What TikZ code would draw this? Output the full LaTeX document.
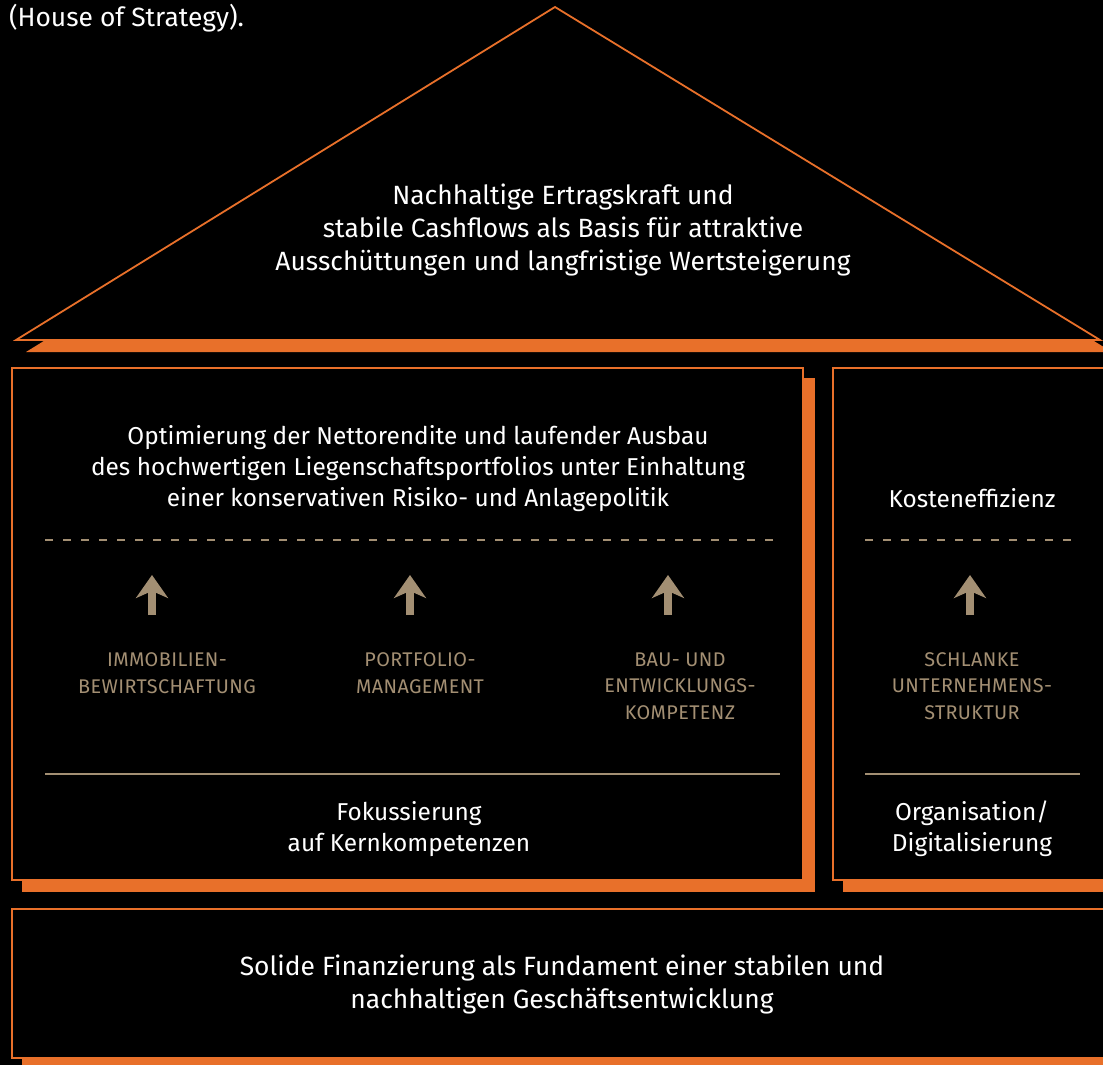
\documentclass[tikz,border=0pt]{standalone}
\usepackage{fontspec}
\setmainfont{Fira Sans}
\newfontfamily\capsfont[LetterSpace=2]{Fira Sans}
\usetikzlibrary{positioning,arrows.meta}
\definecolor{hsorange}{HTML}{E8702A}
\definecolor{hstan}{HTML}{A38F73}

\begin{document}
\begin{tikzpicture}[x=0.5pt, y=-0.5pt,
    txt/.style={text=white, align=center, font=\fontsize{13.2}{16.5}\selectfont},
    boxtxt/.style={txt, font=\fontsize{12.2}{15.5}\selectfont},
    pillar/.style={text=hstan, align=center, font=\capsfont\fontsize{9.9}{13.3}\selectfont},
    frame/.style={draw=hsorange, line width=0.9pt, fill=black},
    shade/.style={fill=hsorange},
    sep/.style={draw=hstan, line width=0.75pt},
    uparrow/.style={hstan, line width=4.4pt, -{Stealth[length=11.5pt, width=16pt, inset=3.5pt]}}]
    \fill[black] (0,0) rectangle (1103,1065);
    \useasboundingbox (0,0) rectangle (1103,1065);
    % roof
    \fill[shade] (565,19) -- (26,352) -- (1112,352) -- cycle;
    \draw[frame] (555,7) -- (16,340) -- (1100,340) -- cycle;
    % pillars and foundation
    \fill[shade] (22,378) rectangle (815,892);
    \draw[frame] (12,368) rectangle (803,880);
    \fill[shade] (843,378) rectangle (1130,892);
    \draw[frame] (833,368) rectangle (1120,880);
    \fill[shade] (22,919) rectangle (1130,1072);
    \draw[frame] (12,909) rectangle (1120,1058);
    % texts
    \node[txt, anchor=west] (title) at (2,18) {(House of Strategy).};
    \node[txt] (goal) at (563,230) {Nachhaltige Ertragskraft und\\stabile Cashflows als Basis für attraktive\\Ausschüttungen und langfristige Wertsteigerung};
    \node[boxtxt] (rendite) at (418,469) {Optimierung der Nettorendite und laufender Ausbau\\des hochwertigen Liegenschaftsportfolios unter Einhaltung\\einer konservativen Risiko- und Anlagepolitik};
    \node[boxtxt] (kosten) at (972,498) {Kosteneffizienz};
    \node[pillar] (immo) at (167,673) {IMMOBILIEN-\\BEWIRTSCHAFTUNG};
    \node[pillar] (portf) at (420,673) {PORTFOLIO-\\MANAGEMENT};
    \node[pillar] (bau) at (680,686) {BAU- UND\\ENTWICKLUNGS-\\KOMPETENZ};
    \node[pillar] (schlank) at (972,686) {SCHLANKE\\UNTERNEHMENS-\\STRUKTUR};
    \node[boxtxt] (fokus) at (409,829) {Fokussierung\\auf Kernkompetenzen};
    \node[boxtxt] (orga) at (972,829) {Organisation/\\Digitalisierung};
    \node[txt] (basis) at (562,985) {Solide Finanzierung als Fundament einer stabilen und\\nachhaltigen Geschäftsentwicklung};
    % separators
    \draw[sep, dash pattern=on 4pt off 5pt] (45,540) -- (780,540);
    \draw[sep, dash pattern=on 4pt off 5pt] (865,540) -- (1080,540);
    \draw[sep] (45,774) -- (780,774);
    \draw[sep] (865,774) -- (1080,774);
    % arrows
    \foreach \name/\x in {a1/152, a2/410, a3/668, a4/970} {
        \coordinate (\name b) at (\x,615);
        \coordinate (\name t) at (\x,575);
        \draw[uparrow] (\name b) -- (\name t);
    }
\end{tikzpicture}
\end{document}
